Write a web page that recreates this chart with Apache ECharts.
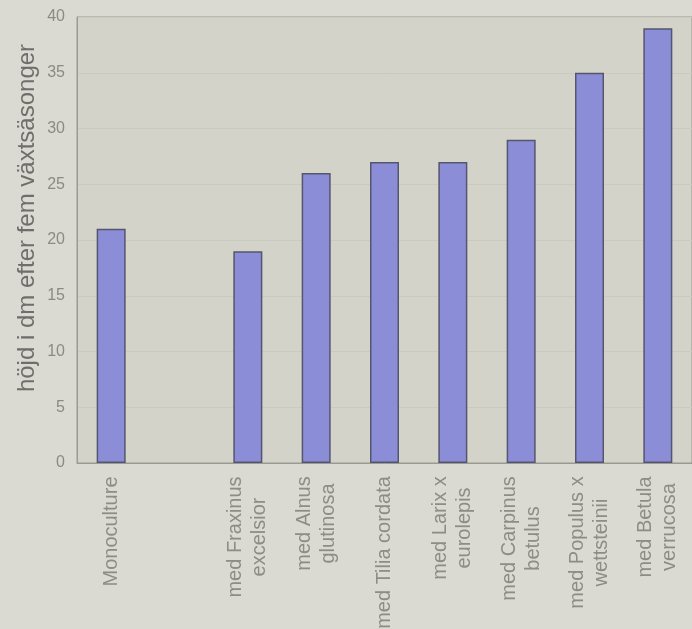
<!DOCTYPE html>
<html>
<head>
<meta charset="utf-8">
<script src="https://cdn.jsdelivr.net/npm/echarts@6/dist/echarts.min.js"></script>
<style>
  html, body { margin: 0; padding: 0; background: #dbdad2; }
  #chart { width: 692px; height: 629px; }
</style>
</head>
<body>
<div id="chart"></div>
<script>
// categories (an empty gap sits after Monoculture)
var categories = [
  "Monoculture",
  "",
  "med Fraxinus\nexcelsior",
  "med Alnus\nglutinosa",
  "med Tilia cordata",
  "med Larix x\neurolepis",
  "med Carpinus\nbetulus",
  "med Populus x\nwettsteinii",
  "med Betula\nverrucosa"
];
var heights = [21, null, 19, 26, 27, 27, 29, 35, 39];
var yTicks = [0, 5, 10, 15, 20, 25, 30, 35, 40];

var labelFont = "20px 'Liberation Sans', Arial, sans-serif";

// measure the widest line of each label so lines can be centred
var ctx = document.createElement("canvas").getContext("2d");
ctx.font = labelFont;
var rich = {};
categories.forEach(function (c, i) {
  var w = 0;
  c.split("\n").forEach(function (line) {
    w = Math.max(w, ctx.measureText(line).width);
  });
  rich["c" + i] = { width: Math.ceil(w) + 2, align: "center", fontSize: 20, lineHeight: 24, color: "#8c8c88" };
});

var chart = echarts.init(document.getElementById("chart"));
chart.setOption({
  backgroundColor: "#dbdad2",
  animation: false,
  grid: {
    left: 77,
    top: 17,
    width: 615,
    height: 446,
    outerBoundsMode: "none",
    containLabel: false,
    show: true,
    backgroundColor: "#d3d3c9",
    borderColor: "#9a9a92",
    borderWidth: 1
  },
  xAxis: {
    type: "category",
    data: categories,
    axisLine: { show: true, lineStyle: { color: "#9a9a92" } },
    axisTick: { show: false },
    axisLabel: {
      interval: 0,
      rotate: 90,
      margin: 12,
      formatter: function (val, idx) {
        if (!val) return "";
        return val.split("\n").map(function (l) {
          return "{c" + idx + "|" + l + "}";
        }).join("\n");
      },
      rich: rich
    }
  },
  yAxis: {
    type: "value",
    min: yTicks[0],
    max: yTicks[yTicks.length - 1],
    interval: 5,
    axisLine: { show: true, lineStyle: { color: "#9a9a92" } },
    axisTick: { show: false },
    splitLine: { show: true, lineStyle: { color: "#cacabf", width: 1 } },
    axisLabel: {
      margin: 12,
      color: "#8a8a86",
      fontSize: 16,
      fontFamily: "Liberation Sans, Arial, sans-serif"
    }
  },
  graphic: [{
    type: "text",
    x: 27,
    y: 218,
    rotation: Math.PI / 2,
    style: {
      text: "höjd i dm efter fem växtsäsonger",
      fill: "#6e6e6c",
      font: "24px 'Liberation Sans', Arial, sans-serif",
      align: "center",
      verticalAlign: "middle"
    }
  }],
  series: [{
    type: "bar",
    data: heights,
    barWidth: 29,
    itemStyle: {
      color: "#8b8ed6",
      borderColor: "#545670",
      borderWidth: 1.5
    }
  }]
});
</script>
</body>
</html>
